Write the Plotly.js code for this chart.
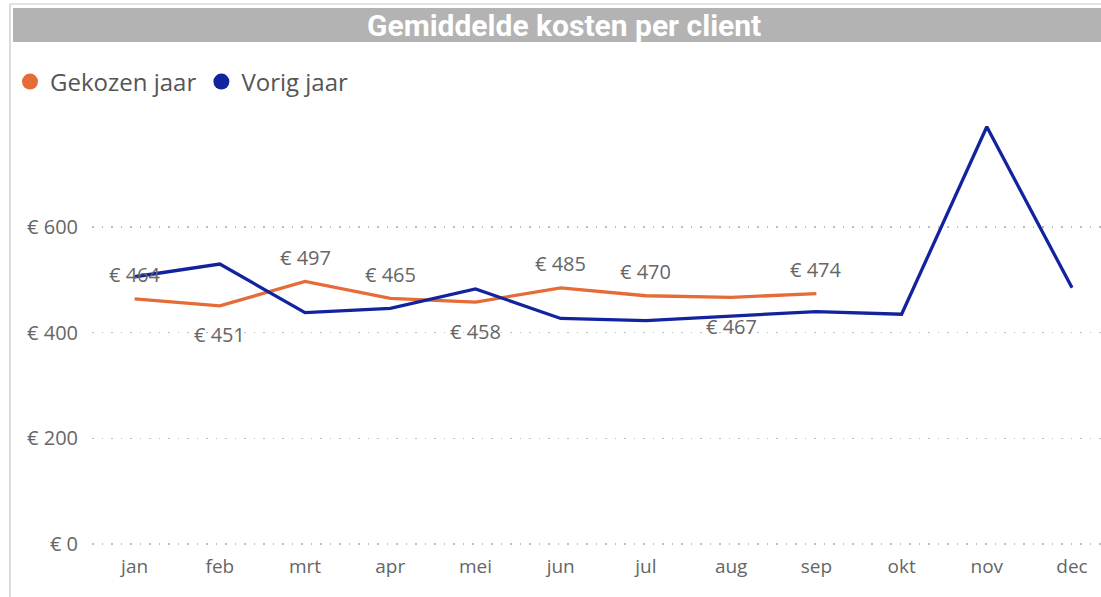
<!DOCTYPE html>
<html>
<head>
<meta charset="utf-8">
<script src="https://cdn.plot.ly/plotly-3.0.1.min.js"></script>
<style>html,body{margin:0;padding:0;background:#fff;}#chart{width:1101px;height:597px;}</style>
</head>
<body>
<div id="chart"></div>
<script>
const months = ['jan','feb','mrt','apr','mei','jun','jul','aug','sep','okt','nov','dec'];
const gekozenJaar = [464, 451, 497, 465, 458, 485, 470, 467, 474];
const vorigJaar = [506, 530, 438, 446, 483, 427, 423, 431, 440, 435, 790, 485];
const yTickValues = [0, 200, 400, 600];
const titleText = 'Gemiddelde kosten per client';
const seriesNames = ['Gekozen jaar', 'Vorig jaar'];
const labelSide = ['above','below','above','above','below','above','above','below','above'];

const ORANGE = '#E66C37', BLUE = '#12239E', TXT = '#666666';
const W = 1101, H = 597, ML = 92, MR = 0, MT = 112, MB = 52;
const PW = W - ML - MR, PH = H - MT - MB;
const px = x => (x - ML) / PW;
const py = y => (H - MB - y) / PH;
const euro = v => '€ ' + v;

const traces = [
  {x: months.slice(0, gekozenJaar.length), y: gekozenJaar, type: 'scatter', mode: 'lines',
   line: {color: ORANGE, width: 3.3}, showlegend: false, hoverinfo: 'skip'},
  {x: months, y: vorigJaar, type: 'scatter', mode: 'lines',
   line: {color: BLUE, width: 3.3}, showlegend: false, hoverinfo: 'skip'},
  {x: [null], y: [null], type: 'scatter', mode: 'markers', name: seriesNames[0],
   marker: {color: ORANGE, size: 17, symbol: 'circle'}},
  {x: [null], y: [null], type: 'scatter', mode: 'markers', name: seriesNames[1],
   marker: {color: BLUE, size: 17, symbol: 'circle'}}
];

const annotations = gekozenJaar.map((v, i) => ({
  x: months[i], y: v, xref: 'x', yref: 'y', text: euro(v), showarrow: false,
  yshift: labelSide[i] === 'above' ? 24 : -29,
  font: {family: 'Open Sans, sans-serif', size: 20, color: TXT}
}));
annotations.push({
  x: px(564), y: py(25), xref: 'paper', yref: 'paper', text: '<b>' + titleText + '</b>',
  showarrow: false, xanchor: 'center', yanchor: 'middle',
  font: {family: 'Roboto, sans-serif', size: 30, color: '#ffffff'}
});

const shapes = [
  {type: 'rect', xref: 'paper', yref: 'paper', x0: px(13), x1: px(1102), y0: py(42), y1: py(8),
   fillcolor: '#b3b3b3', line: {width: 0}, layer: 'below'},
  {type: 'line', xref: 'paper', yref: 'paper', x0: px(10), x1: px(1102), y0: py(4), y1: py(4),
   line: {color: '#d9d9d9', width: 1.5}},
  {type: 'line', xref: 'paper', yref: 'paper', x0: px(10), x1: px(10), y0: py(4), y1: py(600),
   line: {color: '#d0d0d0', width: 1.5}}
];

const layout = {
  width: W, height: H,
  margin: {l: ML, r: MR, t: MT, b: MB, pad: 0},
  paper_bgcolor: '#ffffff', plot_bgcolor: '#ffffff',
  font: {family: 'Open Sans, sans-serif', color: TXT},
  showlegend: true,
  legend: {orientation: 'h', x: px(10), y: py(82), xanchor: 'left', yanchor: 'middle',
    font: {family: 'Open Sans, sans-serif', size: 24, color: '#555555'},
    itemwidth: 30, tracegroupgap: 0, bgcolor: 'rgba(0,0,0,0)'},
  xaxis: {type: 'category', categoryorder: 'array', categoryarray: months,
    range: [-0.5, 11.34], showgrid: false, zeroline: false, showline: false,
    ticks: '', ticklabelstandoff: 8,
    tickfont: {family: 'Open Sans, sans-serif', size: 19, color: TXT}, fixedrange: true},
  yaxis: {range: [-2, 818], tickvals: yTickValues, ticktext: yTickValues.map(euro),
    showgrid: true, gridcolor: '#bdbdbd', griddash: '1.5px,8px', gridwidth: 1.5,
    zeroline: false, showline: false, ticks: '', ticklabelstandoff: 13,
    tickfont: {family: 'Open Sans, sans-serif', size: 20, color: TXT}, fixedrange: true},
  annotations: annotations,
  shapes: shapes
};

Plotly.newPlot('chart', traces, layout, {displayModeBar: false, staticPlot: true});
</script>
</body>
</html>
